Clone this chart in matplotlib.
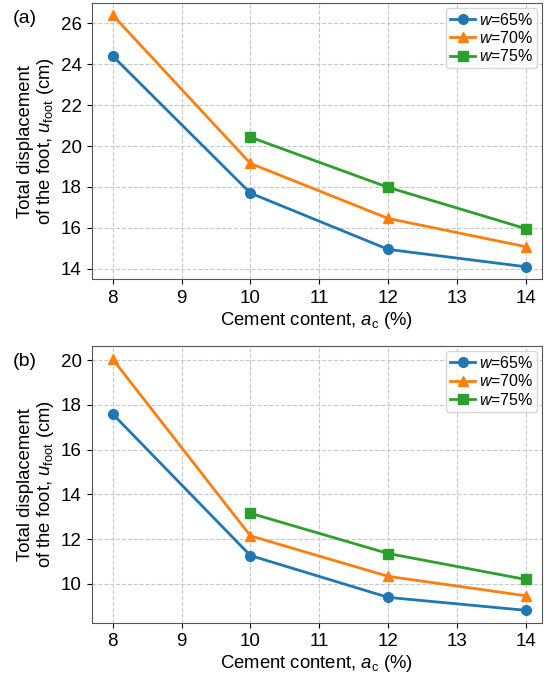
import numpy as np
import matplotlib
matplotlib.use('Agg')
import matplotlib.pyplot as plt

plt.rcParams['font.family'] = ['Liberation Sans', 'DejaVu Sans']
plt.rcParams['mathtext.fontset'] = 'custom'
plt.rcParams['mathtext.rm'] = 'Liberation Sans'
plt.rcParams['mathtext.it'] = 'Liberation Sans:italic'

# cement content (%)
cement = [8, 10, 12, 14]
cement_75 = [10, 12, 14]

# panel (a)
a_w65 = [24.4, 17.7, 14.95, 14.1]
a_w70 = [26.4, 19.15, 16.46, 15.08]
a_w75 = [20.43, 17.98, 15.96]

# panel (b)
b_w65 = [17.6, 11.27, 9.4, 8.82]
b_w70 = [20.05, 12.15, 10.34, 9.47]
b_w75 = [13.16, 11.36, 10.2]

labels = ['$\\it{w}$=65%', '$\\it{w}$=70%', '$\\it{w}$=75%']

fig = plt.figure(figsize=(5.44, 6.8), dpi=100)
ax1 = fig.add_axes([0.169, 0.589, 0.827, 0.407])
ax2 = fig.add_axes([0.169, 0.084, 0.827, 0.407])

panels = [
    (ax1, a_w65, a_w70, a_w75, (13.48, 27.0), np.arange(14, 27, 2), '(a)'),
    (ax2, b_w65, b_w70, b_w75, (8.26, 20.63), np.arange(10, 21, 2), '(b)'),
]

for ax, w65, w70, w75, ylim, yt, tag in panels:
    ax.plot(cement, w65, '-o', color='#1f77b4', lw=2, ms=7, label=labels[0])
    ax.plot(cement, w70, '-^', color='#ff7f0e', lw=2, ms=7, label=labels[1])
    ax.plot(cement_75, w75, '-s', color='#2ca02c', lw=2, ms=7, label=labels[2])
    ax.set_xlim(7.7, 14.23)
    ax.set_ylim(*ylim)
    ax.set_xticks([8, 9, 10, 11, 12, 13, 14])
    ax.set_yticks(yt)
    ax.grid(True, ls='--', color='#c8c8c8', lw=0.8)
    ax.set_axisbelow(True)
    ax.tick_params(labelsize=13.5, pad=4)
    for s in ax.spines.values():
        s.set_color('#555555')
    ax.set_xlabel('Cement content, $a_{\\rm c}$ (%)', fontsize=13.3, labelpad=2)
    ax.set_ylabel('Total displacement\nof the foot, $u_{\\rm foot}$ (cm)', fontsize=13.3,
                  labelpad=3, linespacing=1.1)
    ax.legend(loc='upper right', fontsize=11.5, handlelength=1.6, borderpad=0.25,
              labelspacing=0.15, handletextpad=0.2, borderaxespad=0.3, fancybox=True)
    ax.text(-0.176, 0.975, tag, transform=ax.transAxes, fontsize=14, va='top', ha='left')

fig.savefig('out.png', dpi=100)
